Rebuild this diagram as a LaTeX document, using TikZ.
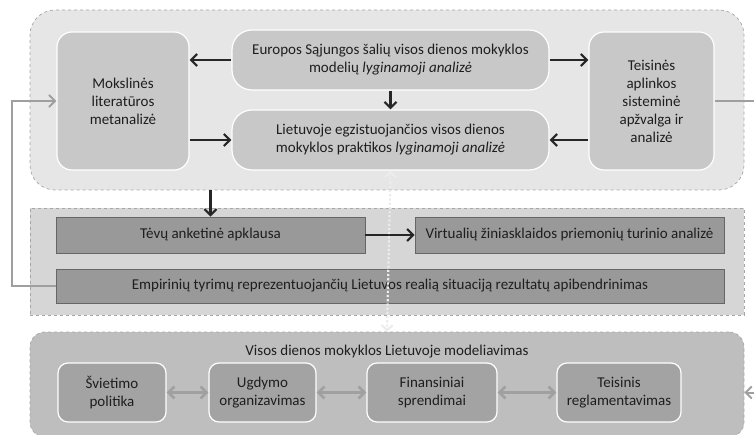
\documentclass[tikz,border=0pt]{standalone}
\usepackage{fontspec}
\setmainfont{Carlito}
\usetikzlibrary{arrows.meta,positioning}
\definecolor{paleback}{HTML}{E6E6E6}
\definecolor{midback}{HTML}{D6D6D6}
\definecolor{lowback}{HTML}{BEBEBE}
\definecolor{softbox}{HTML}{C8C8C8}
\definecolor{darkbox}{HTML}{999999}
\definecolor{inkgray}{HTML}{1E1E1E}
\definecolor{twingray}{HTML}{A0A0A0}
\begin{document}
\begin{tikzpicture}[x=1pt,y=-1pt,font=\fontsize{15}{18}\selectfont,text=inkgray,
    group/.style={draw=gray!70,dashed,line width=.7pt,minimum width=714pt,inner sep=0pt},
    softcard/.style={draw=white,line width=1.2pt,fill=softbox,rounded corners=15pt,align=center,inner sep=2pt},
    darkbar/.style={draw=gray!80!black,line width=.6pt,fill=darkbox,inner sep=0pt,minimum height=36pt},
    lowcard/.style={draw=white,line width=1.2pt,fill=darkbox!90!white,rounded corners=10pt,align=center,minimum height=59pt,inner sep=0pt},
    flow/.style={-{Straight Barb[length=6pt,width=12pt]},line width=2.2pt,black!85},
    back/.style={-{Straight Barb[length=6pt,width=12pt]},line width=2pt,gray!75},
    twin/.style={{Straight Barb[length=6pt,width=12pt]}-{Straight Barb[length=6pt,width=12pt]},line width=2.6pt,twingray},
    dotlink/.style={{Straight Barb[length=5pt,width=11pt]}-{Straight Barb[length=5pt,width=11pt]},line width=2.2pt,dotted,white!85!gray}]
    \useasboundingbox (0,0) rectangle (754,435);
    
    % top group
    \node[group,fill=paleback,rounded corners=25pt,minimum height=180pt] (topgrp) at (387,100) {};
    \node[softcard,minimum width=132pt,minimum height=138pt] (mok) at (123,101) {Mokslinės\\literatūros\\metanalizė};
    \node[softcard,rounded corners=20pt,minimum width=317pt,minimum height=60pt] (eur) at (390.5,60) {Europos Sąjungos šalių visos dienos mokyklos\\modelių \textit{lyginamoji analizė}};
    \node[softcard,rounded corners=20pt,minimum width=317pt,minimum height=60pt] (lie) at (390.5,140) {Lietuvoje egzistuojančios visos dienos\\mokyklos praktikos \textit{lyginamoji analizė}};
    \node[softcard,minimum width=125pt,minimum height=138pt] (tei) at (651.5,101) {Teisinės\\aplinkos\\sisteminė\\apžvalga ir\\analizė};
    
    % middle group
    \node[group,fill=midback,minimum height=107pt] (midgrp) at (387,261.5) {};
    \node[darkbar,minimum width=309pt] (tev) at (210.5,235) {Tėvų anketinė apklausa};
    \node[darkbar,minimum width=309pt] (vir) at (569.5,235) {Virtualių žiniasklaidos priemonių turinio analizė};
    \node[darkbar,minimum width=668pt,minimum height=34pt] (emp) at (390,286) {Empirinių tyrimų reprezentuojančių Lietuvos realią situaciją rezultatų apibendrinimas};
    
    % bottom group
    \node[group,fill=lowback,rounded corners=15pt,minimum height=105pt] (botgrp) at (387,384.5) {};
    \node (model) at (387,352) {Visos dienos mokyklos Lietuvoje modeliavimas};
    \node[lowcard,minimum width=108pt] (svi) at (112,392.5) {Švietimo\\politika};
    \node[lowcard,minimum width=107pt] (ugd) at (262.5,392.5) {Ugdymo\\organizavimas};
    \node[lowcard,minimum width=130pt] (fin) at (432,392.5) {Finansiniai\\sprendimai};
    \node[lowcard,minimum width=124pt] (tes) at (619,392.5) {Teisinis\\reglamentavimas};
    
    % arrows
    \draw[flow] (eur.west) -- (mok.east |- eur.west);
    \draw[flow] (mok.east |- lie.west) -- (lie.west);
    \draw[flow] (eur.east) -- (tei.west |- eur.east);
    \draw[flow] (tei.west |- lie.east) -- (lie.east);
    \draw[flow] (eur.south) -- (lie.north);
    \draw[flow] (tev.north |- topgrp.south) -- (tev.north);
    \draw[flow] (tev.east) -- (vir.west);
    \draw[twin] (svi.east) -- (ugd.west);
    \draw[twin] (ugd.east) -- (fin.west);
    \draw[twin] (fin.east) -- (tes.west);
    
    % feedback lines
    \draw[back] (emp.west) -- ++(-44,0) |- (mok.west);
    \draw[back] (tei.east) -- ++(60,0) |- (botgrp.east |- tes.center);
    \draw[dotlink] (lie.south) -- (botgrp.north);
\end{tikzpicture}
\end{document}
